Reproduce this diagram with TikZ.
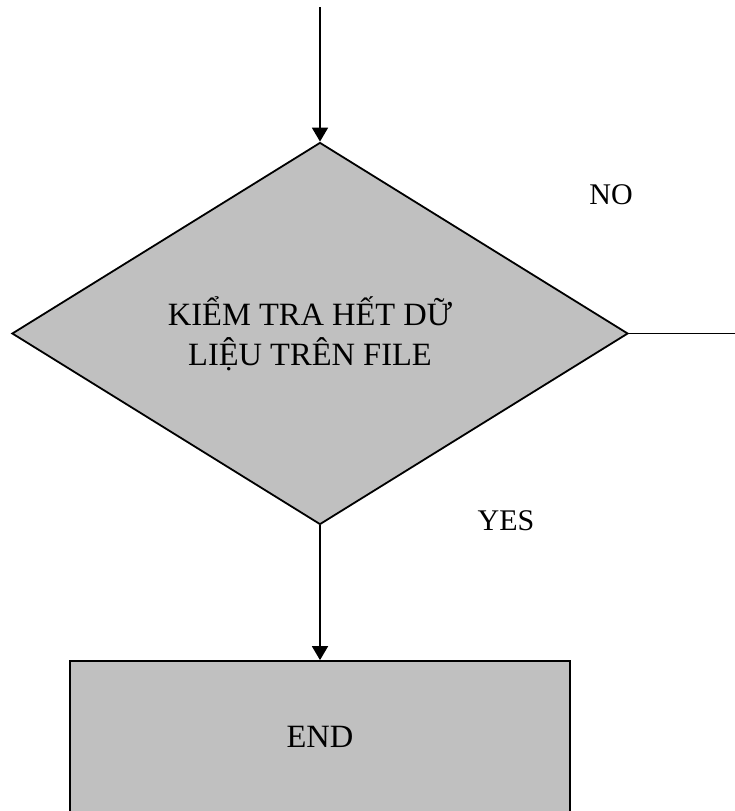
\documentclass[tikz,border=0pt]{standalone}
\usepackage{fontspec}
\setmainfont{Liberation Serif}
\usetikzlibrary{shapes.geometric,arrows.meta}

\definecolor{boxgray}{RGB}{192,192,192}

\tikzset{
  decision/.style={diamond,draw,fill=boxgray,inner sep=0pt,
    minimum width=616pt,minimum height=382pt,align=center,
    font=\fontsize{32.5}{40}\selectfont},
  endbox/.style={rectangle,draw,fill=boxgray,inner sep=0pt,
    minimum width=500pt,minimum height=152pt,
    font=\fontsize{32.5}{40}\selectfont},
  flow/.style={-{Triangle[length=14pt,width=16pt]}},
}

\begin{document}
\begin{tikzpicture}[x=1pt,y=-1pt,line width=1.8pt,
    font=\fontsize{30}{36}\selectfont]
  \clip (0,0) rectangle (735,811);

  \node[decision] (check) at (320,333.5)
    {KIỂM TRA HẾT DỮ\hspace*{20pt}\\LIỆU TRÊN FILE\hspace*{20pt}};
  \node[endbox] (stop) at (320,737) {END};

  \coordinate (in) at (320,7);
  \coordinate (out) at (735,333.5);

  \draw[flow] (in) -- (check.north);
  \draw (check.east) -- (out);
  \draw[flow] (check.south) -- (stop.north);

  \node (no) at (611,195) {NO};
  \node (yes) at (506,521) {YES};
\end{tikzpicture}
\end{document}
